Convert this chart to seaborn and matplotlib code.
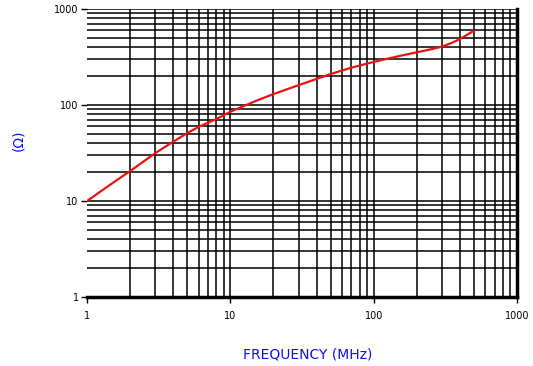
import numpy as np
import pandas as pd
import matplotlib
matplotlib.use("Agg")
import matplotlib.pyplot as plt
import seaborn as sns

# impedance curve
freq_mhz = [1, 1.5, 2, 3, 4, 5, 6, 7, 8, 9, 10, 15, 20, 30, 50, 70, 100, 150,
            200, 250, 300, 350, 400, 450, 500]
impedance = [10, 15.3, 20.5, 31.6, 41.5, 51, 59, 65.5, 71.5, 78.5, 85, 110, 130, 161, 210, 245, 281, 323,
             354, 380, 406, 443, 487, 540, 594]

x_ticks = [1, 10, 100, 1000]
x_tick_labels = ["1", "10", "100", "1000"]
y_ticks = [1, 10, 100, 1000]
y_tick_labels = ["1", "10", "100", "1000"]

df = pd.DataFrame({"freq": freq_mhz, "z": impedance})

sns.set_style("white")
plt.rcParams["font.family"] = ["DejaVu Sans"]

fig = plt.figure(figsize=(5.33, 3.66), dpi=100)
ax = fig.add_axes([87 / 533, 1 - 297 / 366, 430 / 533, 288 / 366])

sns.lineplot(data=df, x="freq", y="z", color="#ee1111", linewidth=1.6, ax=ax)

ax.set_xscale("log")
ax.set_yscale("log")
ax.set_xlim(1, 1000)
ax.set_ylim(1, 1000)

ax.grid(True, which="both", color="black", linewidth=1.1)
ax.set_axisbelow(True)

ax.set_xticks(x_ticks)
ax.set_xticklabels(x_tick_labels)
ax.set_yticks(y_ticks)
ax.set_yticklabels(y_tick_labels)
ax.tick_params(axis="both", which="major", length=4, width=1, color="black",
               labelcolor="black", labelsize=7, pad=2, direction="out",
               bottom=True, left=True)
ax.tick_params(axis="both", which="minor", length=0)
ax.tick_params(axis="x", pad=6)

# no vertical gridline at the left edge (x = 1)
ax.xaxis.get_major_ticks()[0].gridline.set_visible(False)

for side in ["left", "top"]:
    ax.spines[side].set_visible(False)
ax.spines["bottom"].set_linewidth(2.5)
ax.spines["bottom"].set_color("black")
ax.spines["right"].set_linewidth(2.5)
ax.spines["right"].set_color("black")

ax.set_xlabel("")
ax.set_ylabel("")
fig.text(308 / 533, 1 - 354 / 366, "FREQUENCY (MHz)", color="#1010ee",
         fontsize=10, ha="center", va="center")
fig.text(18 / 533, 1 - 140 / 366, "(Ω)", color="#1010ee", fontsize=10,
         rotation=90, ha="center", va="center")

fig.savefig("out.png", dpi=100, facecolor="white")
